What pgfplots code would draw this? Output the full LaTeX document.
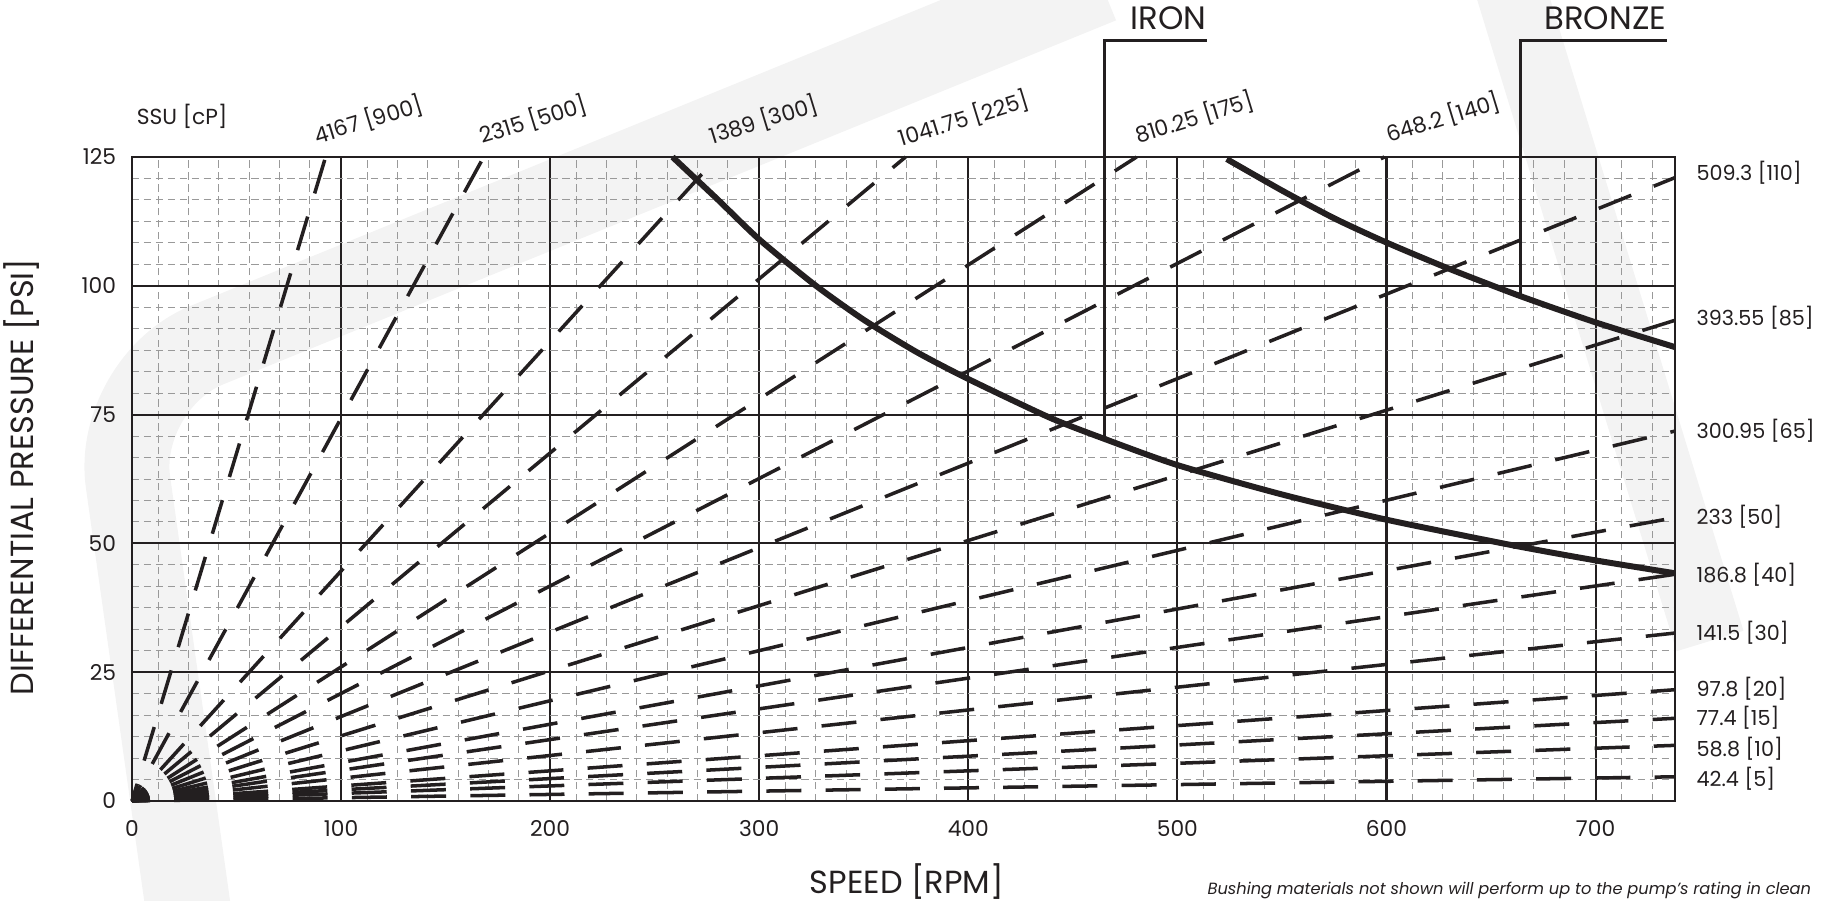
\documentclass[border=0pt]{standalone}
\usepackage{fontspec}
\setmainfont{Poppins}
\usepackage{pgfplots}
\pgfplotsset{compat=1.18}
\definecolor{ink}{RGB}{35,31,32}
\definecolor{wm}{RGB}{243,243,243}
\tikzset{
  rad/.style={ink, line width=1pt, dash pattern=on 9.96pt off 6.89pt, dash phase=4.84pt},
  curve/.style={ink, line width=1.7pt, smooth, tension=0.4},
  callout/.style={ink, line width=0.7pt},
  lab/.style={font=\fontsize{6.2}{7}\selectfont, text=ink},
  rlab/.style={font=\fontsize{5.9}{7}\selectfont, text=ink, anchor=west, inner sep=0pt},
}
\begin{document}
\begin{tikzpicture}[x=1mm,y=1mm]
\path[use as bounding box] (0,0) rectangle (182.5,90.1);
% faint watermark frame
\draw[wm, line width=8.5mm, rounded corners=10mm] (19.0,-2) -- (11.4,51.8) -- (110,92);
\draw[wm, line width=7mm] (150.8,92) -- (171,26);
\begin{axis}[
  at={(13.2mm,10mm)}, anchor=south west,
  scale only axis, width=154.3mm, height=64.4mm,
  xmin=0, xmax=738, ymin=0, ymax=125,
  xtick={0,100,...,700}, ytick={0,25,...,125},
  minor xtick={12.5,27,41.5,56,70.5,85,112.5,127,141.5,156,170.5,185,212.5,227,241.5,256,270.5,285,312.5,327,341.5,356,370.5,385,412.5,427,441.5,456,470.5,485,512.5,527,541.5,556,570.5,585,612.5,627,641.5,656,670.5,685,712.5,727},
  minor ytick={4.167,8.333,12.5,16.667,20.833,29.167,33.333,37.5,41.667,45.833,54.167,58.333,62.5,66.667,70.833,79.167,83.333,87.5,91.667,95.833,104.167,108.333,112.5,116.667,120.833},
  grid=both,
  major grid style={ink, line width=0.6pt},
  minor grid style={black!40, line width=0.28pt, dash pattern=on 2.1pt off 1.3pt},
  axis line style={ink, line width=0.75pt},
  major tick length=0pt, minor tick length=0pt,
  tick label style={font=\fontsize{6.2}{7}\selectfont, text=ink},
  xticklabel style={yshift=-2pt},
  yticklabel style={xshift=-1pt},
  /pgf/number format/assume math mode=true,
  clip=false,
]
% radial viscosity lines (cP)
\addplot[rad] coordinates {(0,0) (92.6,125)};   % 900
\addplot[rad] coordinates {(0,0) (168.2,125)};  % 500
\addplot[rad] coordinates {(0,0) (280,125)};    % 300
\addplot[rad] coordinates {(0,0) (370,125)};    % 225
\addplot[rad] coordinates {(0,0) (480.5,125)};  % 175
\addplot[rad] coordinates {(0,0) (599,125)};    % 140
\addplot[rad] coordinates {(0,0) (738,121.0)};  % 110
\addplot[rad] coordinates {(0,0) (738,93.3)};   % 85
\addplot[rad] coordinates {(0,0) (738,71.8)};   % 65
\addplot[rad] coordinates {(0,0) (738,55.0)};   % 50
\addplot[rad] coordinates {(0,0) (738,44.0)};   % 40
\addplot[rad] coordinates {(0,0) (738,32.6)};   % 30
\addplot[rad] coordinates {(0,0) (738,21.6)};   % 20
\addplot[rad] coordinates {(0,0) (738,16.05)};  % 15
\addplot[rad] coordinates {(0,0) (738,10.8)};   % 10
\addplot[rad] coordinates {(0,0) (738,4.7)};    % 5
% iron
\addplot[curve] coordinates {(258.5,125) (280,116.8) (300,109) (326.5,100.2) (350,93.4) (375,87.2) (400,81.9) (439,74.4) (465,70.3) (500,65.2) (550,59.5) (600,54.6) (660.7,49.6) (700,46.7) (738,44.2)};
% bronze
\addplot[curve] coordinates {(523.6,124.6) (550,118.5) (575,113.1) (600,108.4) (630,103.3) (664,98.0) (700,92.9) (738,88.1)};
% callouts
\addplot[callout] coordinates {(465.2,70.2) (465.2,147.6) (514.1,147.6)};
\addplot[callout] coordinates {(664,98.0) (664,147.6) (734.1,147.6)};
\node[anchor=south east, inner sep=0pt, yshift=3pt, font=\fontsize{9.2}{10}\selectfont, text=ink] at (axis cs:514.1,147.6) {IRON};
\node[anchor=south east, inner sep=0pt, yshift=3pt, font=\fontsize{9.2}{10}\selectfont, text=ink] at (axis cs:734.1,147.6) {BRONZE};
% top labels
\node[lab, anchor=west, inner sep=0pt] at (axis cs:2,132.9) {SSU [cP]};
\node[lab, rotate=17] at (axis cs:113,132.2) {4167 [900]};
\node[lab, rotate=17] at (axis cs:191.8,132.2) {2315 [500]};
\node[lab, rotate=17] at (axis cs:302,132.2) {1389 [300]};
\node[lab, rotate=17] at (axis cs:397.8,132.4) {1041.75 [225]};
\node[lab, rotate=17] at (axis cs:508,132.6) {810.25 [175]};
\node[lab, rotate=17] at (axis cs:627,132.6) {648.2 [140]};
% right labels
\node[rlab] at (axis cs:748,122.0) {509.3 [110]};
\node[rlab] at (axis cs:748,93.8) {393.55 [85]};
\node[rlab] at (axis cs:748,71.9) {300.95 [65]};
\node[rlab] at (axis cs:748,55.2) {233 [50]};
\node[rlab] at (axis cs:748,43.9) {186.8 [40]};
\node[rlab] at (axis cs:748,32.6) {141.5 [30]};
\node[rlab] at (axis cs:748,21.7) {97.8 [20]};
\node[rlab] at (axis cs:748,16.1) {77.4 [15]};
\node[rlab] at (axis cs:748,10.2) {58.8 [10]};
\node[rlab] at (axis cs:748,4.3) {42.4 [5]};
% axis titles
\node[font=\fontsize{9.1}{10}\selectfont, text=ink] at (axis cs:370.6,-15.6) {SPEED [RPM]};
\node[font=\fontsize{9.1}{10}\selectfont, text=ink, rotate=90] at (axis cs:-52.6,62.9) {DIFFERENTIAL PRESSURE [PSI]};
\node[anchor=west, inner sep=0pt, font=\fontsize{4.62}{6}\selectfont\itshape, text=ink] at (axis cs:514.1,-17.4) {Bushing materials not shown will perform up to the pump’s rating in clean};
\end{axis}
\end{tikzpicture}
\end{document}
